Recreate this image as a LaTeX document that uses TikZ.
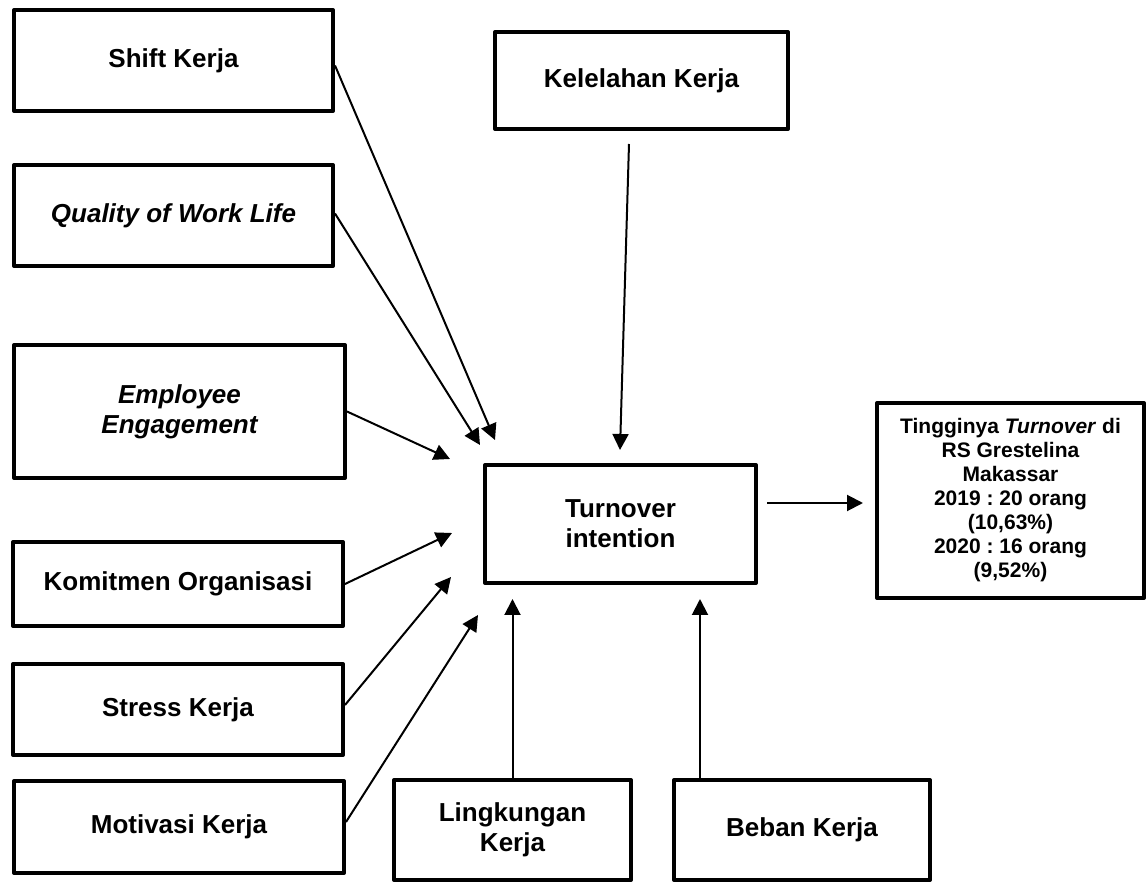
\documentclass[tikz,border=0pt]{standalone}
\usepackage{fontspec}
\setmainfont{Liberation Sans}
\usetikzlibrary{arrows.meta}
\frenchspacing
\begin{document}
\begin{tikzpicture}[x=0.5pt,y=-0.5pt,
  box/.style={draw, line width=2pt, line join=round, inner sep=0pt, align=center,
    font=\fontsize{13}{15}\selectfont\bfseries},
  itbox/.style={box, font=\fontsize{13}{15}\selectfont\bfseries\itshape},
  conn/.style={line width=1pt, -{Triangle[length=8pt,width=8pt]}}]
\useasboundingbox (0,0) rectangle (1148,882);

% left column
\node[box, minimum width=159.5pt, minimum height=50.5pt] (shift) at (173.5,60.5) {Shift Kerja};
\node[itbox, minimum width=159.5pt, minimum height=50.5pt] (qwl) at (173.5,215.5) {Quality of Work Life};
\node[itbox, minimum width=165.5pt, minimum height=66.5pt] (ee) at (179.5,411.5) {Employee\\Engagement};
\node[box, minimum width=165pt, minimum height=42pt] (kom) at (178,584) {Komitmen Organisasi};
\node[box, minimum width=165pt, minimum height=45.5pt] (stress) at (178,709.5) {Stress Kerja};
\node[box, minimum width=165pt, minimum height=46pt] (mot) at (179,827) {Motivasi Kerja};

% top and centre
\node[box, minimum width=146.5pt, minimum height=48.5pt] (kel) at (641.5,80.5) {Kelelahan Kerja};
\node[box, minimum width=135.5pt, minimum height=59pt] (turn) at (620.5,524) {Turnover\\intention};

% result
\node[box, minimum width=133.5pt, minimum height=97.5pt, font=\fontsize{10.5}{12}\selectfont\bfseries] (res) at (1010.5,500.5)
  {Tingginya \textit{Turnover} di\\RS Grestelina\\Makassar\\2019 : 20 orang\\(10,63\%)\\2020 : 16 orang\\(9,52\%)};

% bottom
\node[box, minimum width=118.5pt, minimum height=50pt] (ling) at (512.5,830) {Lingkungan\\Kerja};
\node[box, minimum width=128pt, minimum height=50pt] (beban) at (802,830) {Beban Kerja};

% arrow tips
\coordinate (t1) at (495,440);
\coordinate (t2) at (480,445);
\coordinate (t3) at (450,459);
\coordinate (t4) at (452,533);
\coordinate (t5) at (451,577);
\coordinate (t6) at (478,615);
\coordinate (t7) at (620,450);
\coordinate (t8) at (512.5,599);
\coordinate (bb) at ([xshift=14pt]beban.north west);
\coordinate (t9) at (bb |- t8);
\coordinate (t10) at (863,503);

\draw[conn] ([yshift=-2.5pt]shift.east) -- (t1);
\draw[conn] ([yshift=1pt]qwl.east) -- (t2);
\draw[conn] (ee.east) -- (t3);
\draw[conn] (kom.east) -- (t4);
\draw[conn] ([yshift=2.25pt]stress.east) -- (t5);
\draw[conn] ([yshift=2.5pt]mot.east) -- (t6);
\draw[conn] ([xshift=-6.25pt,yshift=-6.5pt]kel.south) -- (t7);
\draw[conn] (ling.north) -- (t8);
\draw[conn] (bb) -- (t9);
\draw[conn] ([xshift=4.5pt,yshift=10.5pt]turn.east) -- (t10);
\end{tikzpicture}
\end{document}
